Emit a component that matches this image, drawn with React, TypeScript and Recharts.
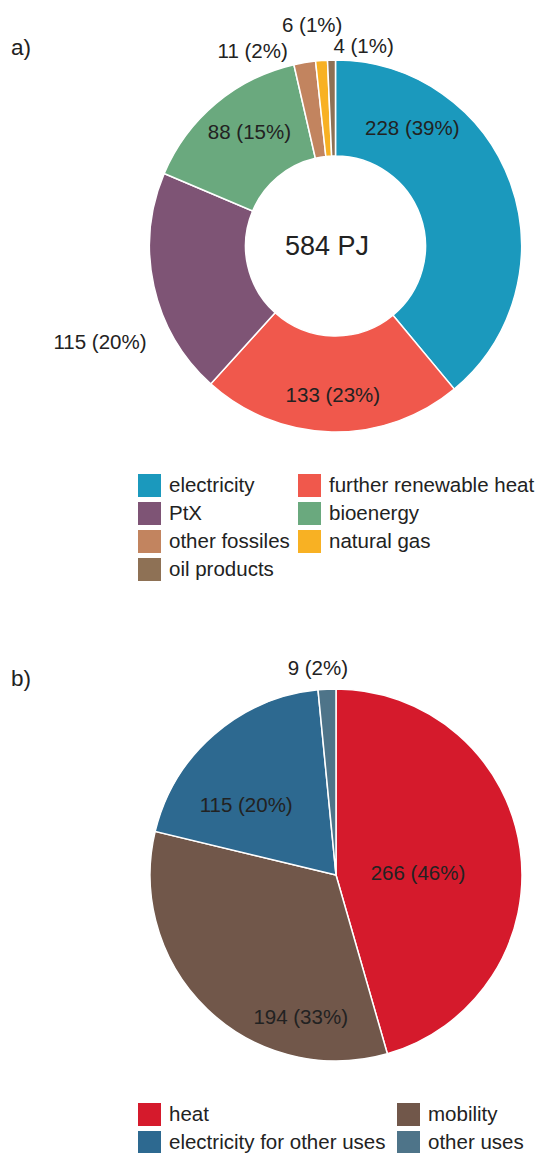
import React from "react";
import { PieChart, Pie, Cell } from "recharts";

const sourceNames = ["electricity", "further renewable heat", "PtX", "bioenergy", "other fossiles", "natural gas", "oil products"];
const sourceValues = [228, 133, 115, 88, 11, 6, 4];
const sourceColors = ["#1b99bd", "#f0584c", "#7e5475", "#6aa97e", "#c2845f", "#f8b123", "#8e7155"];
const sourceTotalLabel = "584 PJ";

const useNames = ["heat", "mobility", "electricity for other uses", "other uses"];
const useValues = [266, 194, 115, 9];
const useColors = ["#d51a2c", "#71574a", "#2d6990", "#4e7489"];

// label placement: [angle clockwise from top in degrees, radius in px]
const sourceLabelPos: [number, number][] = [[33, 141], [181, 149], [248, 254], [323, 143], [337, 212], [354, 223], [8, 202]];
const useLabelPos: [number, number][] = [[88.6, 82], [194, 146], [308, 114], [355, 208]];

const FONT = "'Liberation Sans', Arial, Helvetica, sans-serif";
const TEXT = "#222222";
const FS = 20.5;

const sourceData = sourceNames.map((name, i) => ({ name, value: sourceValues[i] }));
const useData = useNames.map((name, i) => ({ name, value: useValues[i] }));

function makeLabel(values: number[], pos: [number, number][]) {
  const total = values.reduce((a, b) => a + b, 0);
  return (props: any) => {
    const { cx, cy, index } = props;
    const [ang, r] = pos[index];
    const rad = (ang * Math.PI) / 180;
    const x = cx + r * Math.sin(rad);
    const y = cy - r * Math.cos(rad);
    const v = values[index];
    return (
      <text key={index} x={x} y={y} textAnchor="middle" dominantBaseline="central" fontFamily={FONT} fontSize={FS} fill={TEXT}>
        {`${v} (${Math.round((v / total) * 100)}%)`}
      </text>
    );
  };
}

function LegendItem({ color, label, x, y }: { color: string; label: string; x: number; y: number }) {
  return (
    <div style={{ position: "absolute", left: x, top: y - 12, height: 24, display: "flex", alignItems: "center", whiteSpace: "nowrap" }}>
      <div style={{ width: 23, height: 23, background: color, marginRight: 8, flexShrink: 0 }} />
      <span style={{ fontFamily: FONT, fontSize: FS, color: TEXT, lineHeight: "24px" }}>{label}</span>
    </div>
  );
}

export default function App() {
  const legendA = [
    [0, 138, 485], [1, 298, 485], [2, 138, 513], [3, 298, 513], [4, 138, 541], [5, 298, 541], [6, 138, 569],
  ];
  const legendB = [[0, 138, 1114], [1, 397, 1114], [2, 138, 1142], [3, 397, 1142]];
  const m = { top: 0, right: 0, bottom: 0, left: 0 };
  return (
    <div style={{ position: "absolute", left: 0, top: 0, width: 539, height: 1153, background: "#fff", overflow: "hidden" }}>
      <div style={{ position: "absolute", left: 0, top: 0 }}>
        <PieChart width={539} height={460} margin={m}>
          <Pie
            data={sourceData}
            dataKey="value"
            nameKey="name"
            cx={335.5}
            cy={246}
            innerRadius={90}
            outerRadius={186}
            startAngle={90}
            endAngle={-270}
            stroke="#ffffff"
            strokeWidth={1.5}
            isAnimationActive={false}
            labelLine={false}
            label={makeLabel(sourceValues, sourceLabelPos)}
          >
            {sourceData.map((d, i) => (
              <Cell key={d.name} fill={sourceColors[i]} />
            ))}
          </Pie>
          <text x={327} y={246} textAnchor="middle" dominantBaseline="central" fontFamily={FONT} fontSize={27} fill={TEXT}>
            {sourceTotalLabel}
          </text>
          <text x={11} y={47} dominantBaseline="central" fontFamily={FONT} fontSize={22.5} fill={TEXT}>a)</text>
        </PieChart>
      </div>
      {legendA.map(([i, x, y]) => (
        <LegendItem key={"a" + i} color={sourceColors[i]} label={sourceNames[i]} x={x} y={y} />
      ))}
      <div style={{ position: "absolute", left: 0, top: 630 }}>
        <PieChart width={539} height={460} margin={m}>
          <Pie
            data={useData}
            dataKey="value"
            nameKey="name"
            cx={336}
            cy={245}
            innerRadius={0}
            outerRadius={186}
            startAngle={90}
            endAngle={-270}
            stroke="#ffffff"
            strokeWidth={1.5}
            isAnimationActive={false}
            labelLine={false}
            label={makeLabel(useValues, useLabelPos)}
          >
            {useData.map((d, i) => (
              <Cell key={d.name} fill={useColors[i]} />
            ))}
          </Pie>
          <text x={11} y={48} dominantBaseline="central" fontFamily={FONT} fontSize={22.5} fill={TEXT}>b)</text>
        </PieChart>
      </div>
      {legendB.map(([i, x, y]) => (
        <LegendItem key={"b" + i} color={useColors[i]} label={useNames[i]} x={x} y={y} />
      ))}
    </div>
  );
}
